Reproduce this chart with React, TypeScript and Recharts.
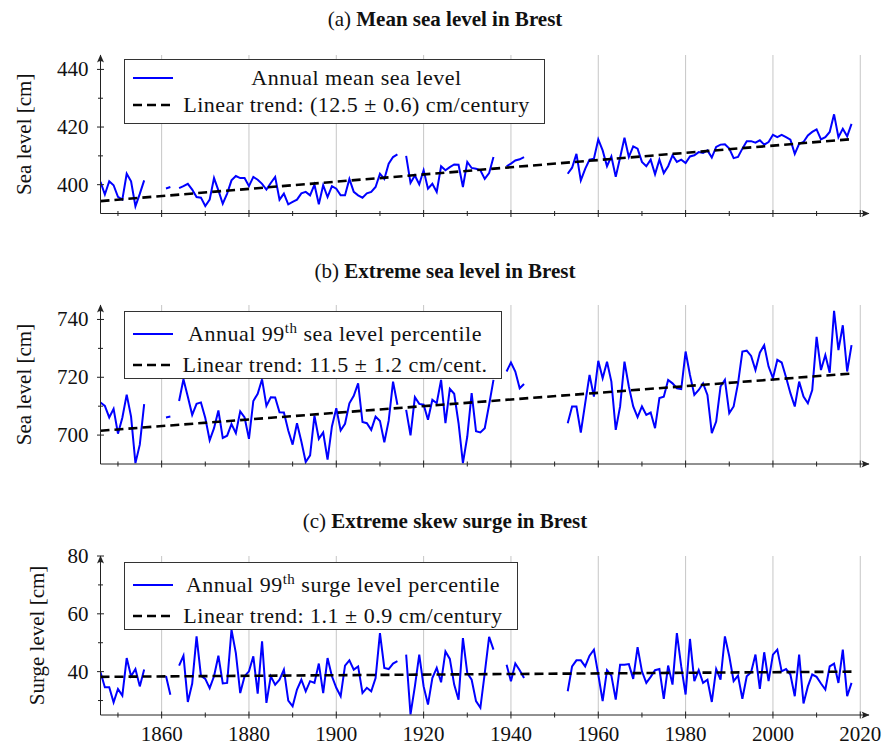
import React from 'react';
import { LineChart, Line, XAxis, YAxis, ReferenceLine, ReferenceDot, Legend } from 'recharts';

const FONT = '"Liberation Serif", "Times New Roman", serif';

const FIRST_YEAR = 1846;
const LAST_YEAR = 2018;
const X_MAX = 2022;
const X_TICKS = [1850, 1860, 1870, 1880, 1890, 1900, 1910, 1920, 1930, 1940, 1950, 1960, 1970, 1980, 1990, 2000, 2010, 2020];
const X_MAJOR = [1860, 1880, 1900, 1920, 1940, 1960, 1980, 2000, 2020];
const TREND_YEARS = [1846, 2018];

// ---- (a) annual mean sea level, segments [startYear, values] ----
const meanSeaLevel: [number, number[]][] = [
  [1846, [401.0, 396.6, 401.2, 399.8, 395.8, 394.8, 403.8, 401.2, 392.5, 396.8, 401.5]],
  [1861, [398.7, 399.2]],
  [1864, [398.8, 399.5, 400.3, 398.3, 395.7, 395.5, 392.6, 394.8, 402.3, 398.0, 393.4, 396.9, 401.5, 403.0, 402.3, 402.3, 399.5, 402.7, 401.7, 400.3, 398.3, 400.6, 402.7, 394.8, 396.9, 393.2, 394.0, 394.8, 397.0, 397.5, 396.3, 400.0, 393.2, 399.8, 395.7, 399.5, 398.6, 396.3, 396.3, 402.0, 397.5, 396.3, 395.5, 397.0, 397.5, 399.2, 403.8, 402.0, 407.3, 409.6, 410.5]],
  [1916, [410.0, 400.6, 403.2, 400.1, 405.0, 398.6, 400.3, 397.5, 406.4, 405.0, 406.1, 407.0, 406.9, 399.2, 407.9, 405.8, 405.5, 405.0, 402.0, 404.0, 409.6]],
  [1939, [406.4, 407.3, 408.4, 408.8, 409.6]],
  [1953, [403.8, 405.9, 410.7, 401.5, 405.5, 408.7, 409.0, 415.7, 411.9, 406.4, 409.8, 402.7, 409.4, 416.3, 409.6, 413.3, 412.5, 407.9, 406.4, 408.7, 403.6, 408.7, 404.0, 406.4, 410.2, 407.9, 408.7, 407.5, 409.8, 410.2, 411.3, 411.0, 411.9, 409.4, 413.1, 413.9, 414.0, 412.5, 409.2, 409.6, 412.5, 415.1, 415.1, 414.6, 415.4, 413.9, 414.8, 417.3, 416.5, 417.3, 416.5, 415.6, 410.7, 414.2, 414.8, 417.1, 418.3, 419.2, 415.7, 416.5, 418.3, 424.4, 416.5, 419.4, 416.8, 421.1]],
];
const meanTrend = [394.3, 415.8];

// ---- (b) annual 99th sea level percentile ----
const extremeSeaLevel: [number, number[]][] = [
  [1846, [711.3, 710.1, 706.1, 709.1, 700.5, 706.0, 714.0, 706.4, 690.3, 696.7, 710.7]],
  [1861, [706.1, 706.4]],
  [1864, [711.8, 719.3, 713.3, 707.0, 710.8, 711.3, 705.9, 698.2, 702.4, 708.5, 699.0, 699.8, 703.8, 700.7, 708.2, 706.1, 698.7, 711.8, 714.3, 719.3, 710.1, 713.1, 713.0, 707.9, 707.8, 701.6, 696.7, 704.1, 697.8, 690.7, 693.0, 706.7, 698.7, 700.9, 691.5, 703.0, 709.3, 701.6, 703.9, 711.0, 713.6, 717.9, 704.5, 704.1, 701.8, 706.4, 704.9, 697.5, 705.0, 718.5, 710.5]],
  [1916, [708.7, 699.9, 713.1, 710.8, 710.5, 705.3, 712.2, 711.0, 719.1, 704.1, 716.0, 714.3, 704.1, 690.3, 699.5, 714.5, 701.3, 700.9, 702.4, 710.5, 719.1]],
  [1939, [722.0, 725.1, 722.0, 716.2, 717.7]],
  [1953, [704.1, 709.9, 709.9, 700.9, 711.0, 720.8, 713.3, 725.7, 719.7, 725.4, 718.5, 701.8, 709.9, 725.4, 716.8, 709.9, 706.2, 709.9, 707.0, 707.8, 702.4, 712.8, 713.3, 719.1, 717.9, 716.2, 715.9, 728.9, 720.8, 713.9, 715.6, 717.9, 713.9, 700.7, 704.7, 716.8, 719.1, 707.6, 709.9, 717.9, 728.9, 729.2, 727.4, 722.5, 728.5, 731.1, 723.7, 719.7, 726.0, 725.1, 720.0, 714.5, 709.9, 718.5, 713.3, 711.0, 715.6, 734.0, 722.5, 727.7, 721.6, 743.0, 729.4, 738.0, 722.0, 731.1]],
];
const extremeTrend = [701.5, 721.3];

// ---- (c) annual 99th surge level percentile ----
const skewSurge: [number, number[]][] = [
  [1846, [39.8, 34.6, 34.6, 29.4, 34.0, 31.7, 44.7, 38.4, 40.9, 34.9, 40.7]],
  [1861, [38.5, 32.0]],
  [1864, [42.1, 45.5, 29.5, 35.9, 52.2, 38.6, 37.5, 34.3, 38.4, 45.5, 35.9, 36.1, 54.5, 46.4, 32.6, 38.4, 40.1, 45.3, 32.4, 50.5, 29.2, 38.4, 35.5, 37.2, 40.7, 30.0, 28.0, 33.8, 37.2, 33.2, 36.7, 36.1, 42.8, 32.6, 44.7, 38.4, 34.4, 31.5, 42.1, 43.9, 40.7, 41.8, 32.6, 34.4, 33.2, 37.8, 53.3, 41.3, 40.9, 42.8, 43.6]],
  [1916, [45.9, 25.2, 34.9, 45.9, 34.9, 28.6, 37.8, 41.3, 36.3, 47.0, 44.4, 35.5, 30.3, 51.6, 39.5, 37.2, 29.8, 27.5, 39.5, 52.0, 47.6]],
  [1939, [42.4, 36.7, 42.8, 40.5, 37.8]],
  [1953, [33.2, 41.8, 43.9, 43.9, 41.8, 45.5, 47.6, 39.0, 29.8, 40.5, 38.6, 30.3, 42.4, 42.4, 42.6, 37.5, 48.5, 40.1, 36.1, 38.2, 40.5, 40.9, 30.6, 42.1, 35.5, 53.3, 41.8, 32.1, 51.3, 36.7, 40.5, 36.1, 37.2, 29.5, 40.9, 37.2, 52.2, 45.3, 36.7, 38.6, 30.6, 38.4, 39.8, 45.9, 34.0, 46.7, 36.7, 45.9, 47.6, 40.1, 40.9, 39.0, 31.5, 45.9, 29.0, 34.9, 39.0, 38.2, 35.9, 33.8, 41.8, 42.8, 36.1, 47.6, 31.5, 36.1]],
];
const surgeTrend = [38.2, 40.0];

// ---- axes / labels ----
const yDomainA = [390, 445];
const yTicksA = [400, 410, 420, 430, 440];
const yLabelsA = [400, 420, 440];
const yDomainB = [690, 745];
const yTicksB = [700, 710, 720, 730, 740];
const yLabelsB = [700, 720, 740];
const yDomainC = [25, 80];
const yTicksC = [30, 40, 50, 60, 70, 80];
const yLabelsC = [40, 60, 80];

function buildRows(segs: [number, number[]][], trend: number[]) {
  const lookup = new Map<number, number>();
  segs.forEach(([start, vals]) => vals.forEach((v, i) => lookup.set(start + i, v)));
  const rows: any[] = [];
  for (let y = FIRST_YEAR; y <= LAST_YEAR; y++) {
    rows.push({
      year: y,
      value: lookup.has(y) ? lookup.get(y) : null,
      trend: y === TREND_YEARS[0] ? trend[0] : y === TREND_YEARS[1] ? trend[1] : null,
    });
  }
  return rows;
}

const AXIS = '#222';

const makeXTick = (showLabels: boolean) => (props: any) => {
  const { x, y, payload } = props;
  const major = X_MAJOR.includes(payload.value);
  const h = major ? 3.5 : 2.5;
  return (
    <g>
      <line x1={x} x2={x} y1={y - h} y2={y + h} stroke={AXIS} strokeWidth={1} />
      {showLabels && major && (
        <text x={x} y={y + 26} textAnchor="middle" fontFamily={FONT} fontSize={21} fill="#111">
          {payload.value}
        </text>
      )}
    </g>
  );
};

const makeYTick = (labels: number[]) => (props: any) => {
  const { x, y, payload } = props;
  const major = labels.includes(payload.value);
  const h = major ? 3.5 : 2.5;
  return (
    <g>
      <line x1={x - h} x2={x + h} y1={y} y2={y} stroke={AXIS} strokeWidth={1} />
      {major && (
        <text x={x - 12} y={y + 7} textAnchor="end" fontFamily={FONT} fontSize={21} fill="#111">
          {payload.value}
        </text>
      )}
    </g>
  );
};

const ArrowRight = (p: any) => (
  <path d={`M${p.cx + 0.5},${p.cy} L${p.cx - 7.5},${p.cy - 3.5} Q${p.cx - 4.5},${p.cy} ${p.cx - 7.5},${p.cy + 3.5} Z`} fill={AXIS} />
);
const ArrowUp = (p: any) => (
  <path d={`M${p.cx},${p.cy - 0.5} L${p.cx - 3.5},${p.cy + 7.5} Q${p.cx},${p.cy + 4.5} ${p.cx + 3.5},${p.cy + 7.5} Z`} fill={AXIS} />
);

const YTitle = (props: any) => {
  const { viewBox, text, cx } = props;
  const cy = viewBox.y + viewBox.height / 2;
  return (
    <text x={cx} y={cy} transform={`rotate(-90 ${cx} ${cy})`} textAnchor="middle" dominantBaseline="central" fontFamily={FONT} fontSize={21} fill="#111">
      {text}
    </text>
  );
};

const LegendBox = (props: any) => {
  const { width, height, rows, padTop, rowH } = props;
  return (
    <div style={{ width, height, boxSizing: 'border-box', border: '1px solid #333', background: '#fff', fontFamily: FONT, fontSize: 22, letterSpacing: 0.5, color: '#111', paddingTop: padTop }}>
      {rows.map((r: any, i: number) => (
        <div key={i} style={{ display: 'flex', alignItems: 'center', height: rowH }}>
          <svg width={54} height={12} style={{ flex: '0 0 54px' }}>
            <line x1={8} x2={48} y1={6} y2={6} stroke={r.color} strokeWidth={r.dashed ? 2.6 : 1.8} strokeDasharray={r.dashed ? '9 5' : undefined} />
          </svg>
          <div style={{ flex: 1, textAlign: 'center', whiteSpace: 'nowrap', paddingRight: 10 }}>{r.label}</div>
        </div>
      ))}
    </div>
  );
};

const sup = (s: string) => <sup style={{ fontSize: '0.68em', verticalAlign: '0.55em', lineHeight: 0 }}>{s}</sup>;

const legendA = [
  { label: 'Annual mean sea level', color: '#0000ff', dashed: false },
  { label: 'Linear trend: (12.5 ± 0.6) cm/century', color: '#000', dashed: true },
];
const legendB = [
  { label: <span>Annual 99{sup('th')} sea level percentile</span>, color: '#0000ff', dashed: false },
  { label: 'Linear trend: 11.5 ± 1.2 cm/cent.', color: '#000', dashed: true },
];
const legendC = [
  { label: <span>Annual 99{sup('th')} surge level percentile</span>, color: '#0000ff', dashed: false },
  { label: 'Linear trend: 1.1 ± 0.9 cm/century', color: '#000', dashed: true },
];

const panels = [
  {
    top: 0, height: 235, margin: { top: 55, right: 21, left: 40.5, bottom: 11.5 }, xh: 10,
    title: ['(a) ', 'Mean sea level in Brest'], titleTop: 6,
    rows: buildRows(meanSeaLevel, meanTrend), yDomain: yDomainA, yTicks: yTicksA, yLabels: yLabelsA,
    ylabel: 'Sea level [cm]', ylabelX: 24, xLabels: false,
    legend: legendA, lg: { left: 124, top: 59, width: 421, height: 65, padTop: 4, rowH: 27 },
  },
  {
    top: 250, height: 235, margin: { top: 55, right: 21, left: 40.5, bottom: 11 }, xh: 10,
    title: ['(b) ', 'Extreme sea level in Brest'], titleTop: 258,
    rows: buildRows(extremeSeaLevel, extremeTrend), yDomain: yDomainB, yTicks: yTicksB, yLabels: yLabelsB,
    ylabel: 'Sea level [cm]', ylabelX: 24, xLabels: false,
    legend: legendB, lg: { left: 124, top: 311, width: 378, height: 68, padTop: 6, rowH: 31 },
  },
  {
    top: 500, height: 247, margin: { top: 56, right: 21, left: 40.5, bottom: 2 }, xh: 30,
    title: ['(c) ', 'Extreme skew surge in Brest'], titleTop: 508,
    rows: buildRows(skewSurge, surgeTrend), yDomain: yDomainC, yTicks: yTicksC, yLabels: yLabelsC,
    ylabel: 'Surge level [cm]', ylabelX: 37, xLabels: true,
    legend: legendC, lg: { left: 124, top: 562, width: 394, height: 68, padTop: 6, rowH: 31 },
  },
];

export default function App() {
  return (
    <div style={{ position: 'absolute', left: 0, top: 0, width: 890, height: 747, background: '#fff', fontFamily: FONT }}>
      {panels.map((p, i) => (
        <React.Fragment key={i}>
          <div style={{ position: 'absolute', left: 0, top: p.titleTop, width: 890, textAlign: 'center', fontSize: 21, lineHeight: '26px', color: '#111' }}>
            {p.title[0]}<b>{p.title[1]}</b>
          </div>
          <div style={{ position: 'absolute', left: 0, top: p.top, width: 890, height: p.height }}>
            <LineChart width={890} height={p.height} data={p.rows} margin={p.margin}>
              {X_MAJOR.map((yr) => (
                <ReferenceLine key={yr} x={yr} stroke="#c6c6c6" strokeWidth={1} ifOverflow="visible" />
              ))}
              <XAxis
                dataKey="year" type="number" domain={[FIRST_YEAR, X_MAX]} ticks={X_TICKS} interval={0}
                allowDataOverflow height={p.xh} tickSize={0} tickMargin={0} tickLine={false}
                axisLine={{ stroke: AXIS, strokeWidth: 1 }} tick={makeXTick(p.xLabels)}
              />
              <YAxis
                type="number" domain={p.yDomain} ticks={p.yTicks} interval={0} allowDataOverflow width={60}
                tickSize={0} tickMargin={0} tickLine={false} axisLine={{ stroke: AXIS, strokeWidth: 1 }}
                tick={makeYTick(p.yLabels)}
                label={<YTitle text={p.ylabel} cx={p.ylabelX} />}
              />
              <Line dataKey="value" stroke="#0000ff" strokeWidth={2} dot={false} connectNulls={false} isAnimationActive={false} />
              <Line dataKey="trend" stroke="#000" strokeWidth={2.6} strokeDasharray="9 5" dot={false} connectNulls isAnimationActive={false} />
              <ReferenceDot x={X_MAX} y={p.yDomain[0]} r={0} ifOverflow="visible" shape={ArrowRight} />
              <ReferenceDot x={FIRST_YEAR} y={p.yDomain[1]} r={0} ifOverflow="visible" shape={ArrowUp} />
              <Legend
                layout="vertical" align="center" verticalAlign="middle"
                wrapperStyle={{ position: 'absolute', left: p.lg.left, top: p.lg.top - p.top, width: p.lg.width, height: p.lg.height }}
                content={() => <LegendBox width={p.lg.width} height={p.lg.height} rows={p.legend} padTop={p.lg.padTop} rowH={p.lg.rowH} />}
              />
            </LineChart>
          </div>
        </React.Fragment>
      ))}
    </div>
  );
}
